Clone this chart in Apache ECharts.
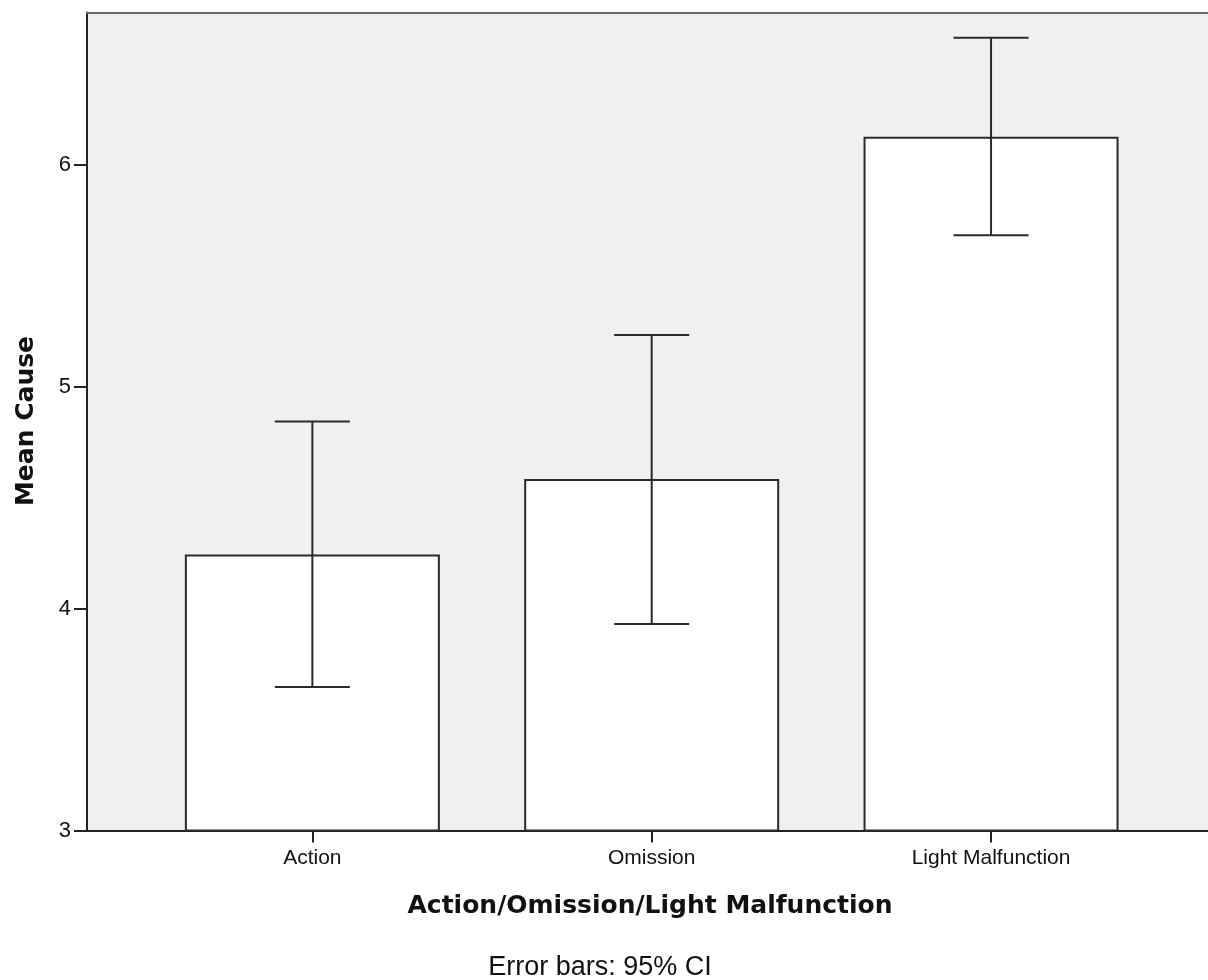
<!DOCTYPE html>
<html>
<head>
<meta charset="utf-8">
<style>html,body{margin:0;padding:0;background:#fff;}#c{width:1208px;height:980px;}</style>
<script src="https://cdn.jsdelivr.net/npm/echarts@6/dist/echarts.min.js"></script>
</head>
<body>
<div id="c"></div>
<script>
var categories = ['Action', 'Omission', 'Light Malfunction'];
var means = [4.243, 4.583, 6.125];
var ciLow = [3.646, 3.930, 5.682];
var ciHigh = [4.842, 5.232, 6.571];
var yTicks = [3, 4, 5, 6];
var yMin = 3, yMax = 6.685;

var chart = echarts.init(document.getElementById('c'), null, {renderer: 'canvas'});
var lineCol = '#222';
var errData = categories.map(function (c, i) { return [i, ciLow[i], ciHigh[i]]; });

var option = {
  animation: false,
  grid: [
    {left: 87, top: 12.5, width: 1140, height: 818, show: true, backgroundColor: '#f0f0f0', borderWidth: 0},
    {left: 142.7, top: 12.5, width: 1018, height: 818}
  ],
  xAxis: [
    {gridIndex: 0, type: 'value', min: 0, max: 1, position: 'bottom',
     axisLine: {show: true, lineStyle: {color: lineCol, width: 2}},
     axisTick: {show: false}, axisLabel: {show: false}, splitLine: {show: false}},
    {gridIndex: 0, type: 'value', min: 0, max: 1, position: 'top',
     axisLine: {show: true, lineStyle: {color: '#6a6a6a', width: 2}},
     axisTick: {show: false}, axisLabel: {show: false}, splitLine: {show: false}},
    {gridIndex: 1, type: 'category', data: categories, position: 'bottom',
     axisLine: {show: false},
     axisTick: {show: true, alignWithLabel: true, length: 12, lineStyle: {color: lineCol, width: 2}},
     axisLabel: {show: true, margin: 17, fontFamily: 'Liberation Sans, Arial, sans-serif', fontSize: 21, color: '#111'},
     splitLine: {show: false}}
  ],
  yAxis: [
    {gridIndex: 0, type: 'value', min: yMin, max: yMax, interval: 1,
     axisLine: {show: true, lineStyle: {color: lineCol, width: 2}},
     axisTick: {show: true, length: 13, lineStyle: {color: lineCol, width: 2},
                customValues: yTicks},
     axisLabel: {show: true, margin: 16, fontFamily: 'Liberation Sans, Arial, sans-serif', fontSize: 22, color: '#111',
                 customValues: yTicks, formatter: function (v) { return String(v); }},
     splitLine: {show: false}},
    {gridIndex: 1, type: 'value', min: yMin, max: yMax, interval: 1, show: false}
  ],
  series: [
    {type: 'bar', xAxisIndex: 2, yAxisIndex: 1, data: means, barWidth: 255,
     itemStyle: {color: '#ffffff', borderColor: '#2a2a2a', borderWidth: 2}},
    {type: 'custom', xAxisIndex: 2, yAxisIndex: 1, data: errData, z: 5,
     renderItem: function (params, api) {
       var x = api.value(0);
       var lo = api.coord([x, api.value(1)]);
       var hi = api.coord([x, api.value(2)]);
       var hw = 37.5;
       var st = {stroke: '#2a2a2a', lineWidth: 2};
       return {type: 'group', children: [
         {type: 'line', shape: {x1: lo[0], y1: lo[1], x2: hi[0], y2: hi[1]}, style: st},
         {type: 'line', shape: {x1: hi[0] - hw, y1: hi[1], x2: hi[0] + hw, y2: hi[1]}, style: st},
         {type: 'line', shape: {x1: lo[0] - hw, y1: lo[1], x2: lo[0] + hw, y2: lo[1]}, style: st}
       ]};
     }}
  ],
  graphic: [
    {type: 'text', x: 26, y: 421, rotation: Math.PI / 2,
     style: {text: 'Mean Cause', fontFamily: 'DejaVu Sans', fontWeight: 'bold', fontSize: 25, fill: '#111', align: 'center', verticalAlign: 'middle'}},
    {type: 'text', x: 650, y: 906,
     style: {text: 'Action/Omission/Light Malfunction', fontFamily: 'DejaVu Sans', fontWeight: 'bold', fontSize: 25, fill: '#111', align: 'center', verticalAlign: 'middle'}},
    {type: 'text', x: 600, y: 968,
     style: {text: 'Error bars: 95% CI', fontFamily: 'Liberation Sans, Arial, sans-serif', fontSize: 27, fill: '#111', align: 'center', verticalAlign: 'middle'}}
  ]
};
chart.setOption(option);
</script>
</body>
</html>
